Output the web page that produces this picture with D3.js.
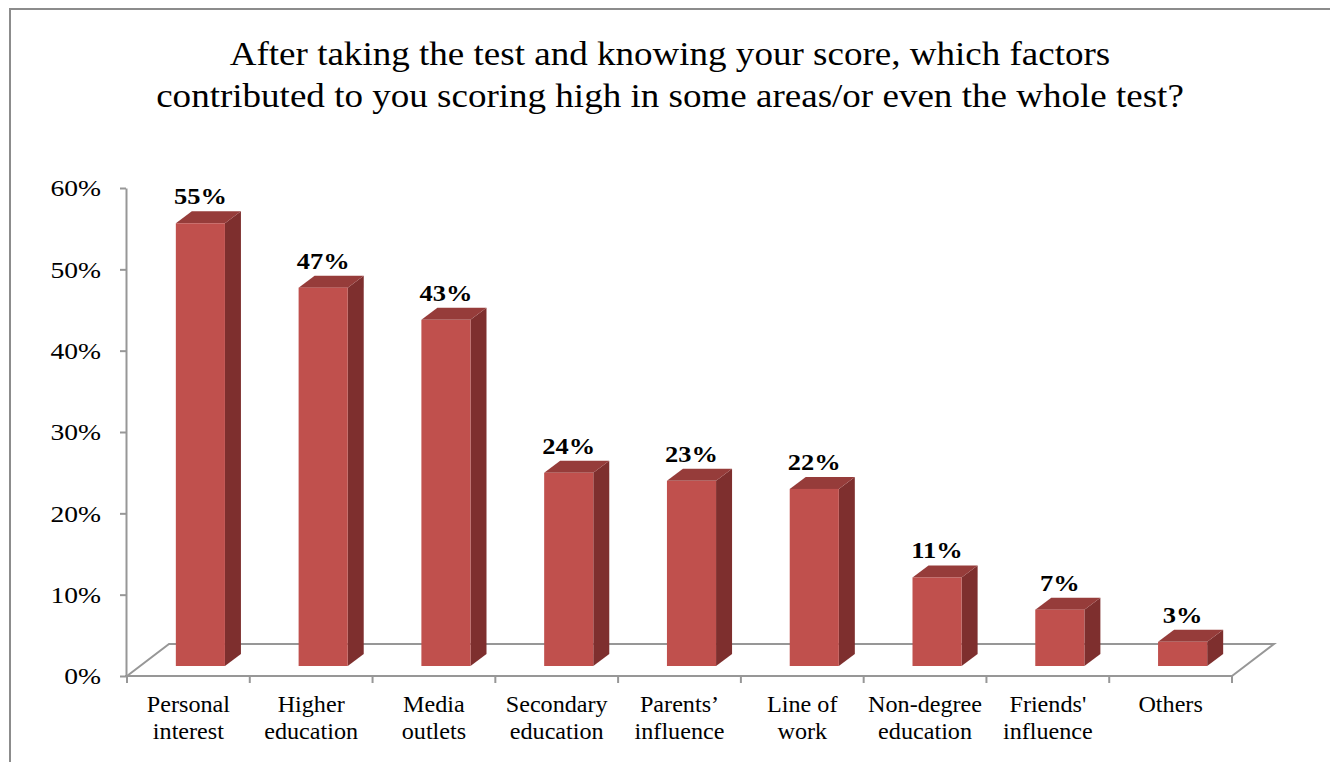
<!DOCTYPE html>
<html>
<head>
<meta charset="utf-8">
<script src="https://cdn.jsdelivr.net/npm/d3@7"></script>
<style>
  html, body { margin: 0; padding: 0; background: #fff; }
  svg { display: block; }
  text { font-family: "Liberation Serif", "Times New Roman", serif; fill: #000; }
</style>
</head>
<body>
<svg id="chart" width="1330" height="762"></svg>
<script>
// Survey results: factors behind high scores
const categories = [
  ["Personal", "interest"],
  ["Higher", "education"],
  ["Media", "outlets"],
  ["Secondary", "education"],
  ["Parents\u2019", "influence"],
  ["Line of", "work"],
  ["Non-degree", "education"],
  ["Friends'", "influence"],
  ["Others"]
];
const shares = [0.55, 0.47, 0.43, 0.24, 0.23, 0.22, 0.11, 0.07, 0.03];
const yTicks = [0, 0.1, 0.2, 0.3, 0.4, 0.5, 0.6];
const titleLines = [
  "After taking the test and knowing your score, which factors",
  "contributed to you scoring high in some areas/or even the whole test?"
];

const svg = d3.select("#chart");
const W = 1330, H = 762;
const pct = d3.format(".0%");

// text is set slightly wide, like the original document font
const place = (sel, fx, fy, sx) =>
  sel.attr("transform", (d, i) => `translate(${fx(d, i)},${fy(d, i)}) scale(${sx},1)`);

// outer chart frame
svg.append("rect")
  .attr("x", 10).attr("y", 9)
  .attr("width", W + 20).attr("height", H + 20)
  .attr("fill", "#fff")
  .attr("stroke", "#8c8c8c").attr("stroke-width", 2);

// title
svg.append("g").selectAll("text")
  .data(titleLines)
  .join("text")
  .attr("text-anchor", "middle")
  .attr("font-size", 34)
  .text(d => d)
  .call(place, () => 670, (d, i) => 65 + i * 42, 1.09);

const keys = categories.map(c => c.join(" "));
const x = d3.scaleBand().domain(keys).range([127, 1232]);
const y = d3.scaleLinear().domain([0, 0.6]).range([676, 188]);
// bars stand part-way into the floor, so they use a slightly receded scale
const yBar = d3.scaleLinear().domain([0, 0.6]).range([666, 183]);

const floorDX = 42, floorDY = -32;     // floor depth
const barShiftX = 12;                  // bar offset into the floor
const barDX = 16, barDY = -12;         // bar depth
const barW = x.bandwidth() * 0.4;

// floor
const x0 = x.range()[0], x1 = x.range()[1], y0 = y(0);
svg.append("path")
  .attr("d", `M${x0},${y0} L${x0 + floorDX},${y0 + floorDY} L${x1 + floorDX},${y0 + floorDY} L${x1},${y0}`)
  .attr("fill", "none")
  .attr("stroke", "#979797").attr("stroke-width", 2)
  .attr("stroke-linejoin", "miter");

// y axis
const yAxis = svg.append("g")
  .attr("transform", `translate(${x0 - 1},0)`)
  .call(d3.axisLeft(y).tickValues(yTicks).tickFormat(pct).tickSize(6).tickSizeOuter(0));
yAxis.select(".domain").attr("stroke", "#979797").attr("stroke-width", 2);
yAxis.selectAll(".tick line").attr("stroke", "#979797").attr("stroke-width", 2);
yAxis.selectAll(".tick text")
  .attr("font-family", "Liberation Serif, Times New Roman, serif")
  .attr("font-size", 24).attr("fill", "#000")
  .attr("x", null)
  .attr("transform", "translate(-25,0) scale(1.15,1)");

// x axis line and category boundary ticks
svg.append("line")
  .attr("x1", x0 - 2).attr("x2", x1).attr("y1", y0).attr("y2", y0)
  .attr("stroke", "#979797").attr("stroke-width", 2);
const bounds = keys.map(k => x(k)).concat([x1]);
svg.append("g").selectAll("line")
  .data(bounds)
  .join("line")
  .attr("x1", d => d).attr("x2", d => d)
  .attr("y1", y0).attr("y2", y0 + 7)
  .attr("stroke", "#979797").attr("stroke-width", 2);

// category labels
const catG = svg.append("g").selectAll("text")
  .data(categories)
  .join("text")
  .attr("text-anchor", "middle")
  .attr("font-size", 23)
  .call(place, (d, i) => x(keys[i]) + x.bandwidth() / 2, () => 712, 1.05);
catG.selectAll("tspan")
  .data(d => d)
  .join("tspan")
  .attr("x", 0)
  .attr("dy", (d, i) => i === 0 ? 0 : 27)
  .text(d => d);

// 3D bars
const bars = svg.append("g").selectAll("g")
  .data(shares)
  .join("g");

const left = i => x(keys[i]) + x.bandwidth() / 2 - barW / 2 + barShiftX;

// side face
bars.append("path")
  .attr("d", (v, i) => {
    const l = left(i), r = l + barW, t = yBar(v), b = yBar(0);
    return `M${r},${b} L${r + barDX},${b + barDY} L${r + barDX},${t + barDY} L${r},${t} Z`;
  })
  .attr("fill", "#7e2f2e");

// top face
bars.append("path")
  .attr("d", (v, i) => {
    const l = left(i), r = l + barW, t = yBar(v);
    return `M${l},${t} L${l + barDX},${t + barDY} L${r + barDX},${t + barDY} L${r},${t} Z`;
  })
  .attr("fill", "#963c3a");

// front face
bars.append("rect")
  .attr("x", (v, i) => left(i))
  .attr("y", v => yBar(v))
  .attr("width", barW)
  .attr("height", v => yBar(0) - yBar(v))
  .attr("fill", "#c0504d");

// value labels
bars.append("text")
  .attr("text-anchor", "middle")
  .attr("font-size", 23)
  .attr("font-weight", "bold")
  .text(v => pct(v))
  .call(place, (v, i) => left(i) + barW / 2, v => yBar(v) - 19, 1.15);
</script>
</body>
</html>
